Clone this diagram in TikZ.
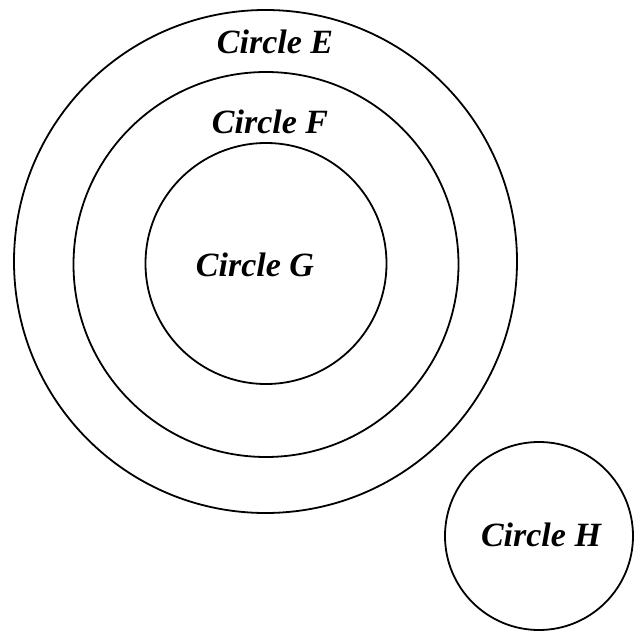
\documentclass[tikz,border=0pt]{standalone}
\usepackage{fontspec}
\setmainfont{Liberation Serif}
\usepackage{tikz}
\usetikzlibrary{positioning}

\begin{document}
\begin{tikzpicture}[
    x=1pt, y=1pt,
    ring/.style={
        circle, draw, line width=1.8pt, inner sep=0pt
    },
    circlabel/.style={
        font=\fontsize{34}{36}\selectfont\bfseries\itshape, inner sep=0pt
    }
]
    \useasboundingbox (0,0) rectangle (638,-631);

    % Nested circles
    \node[ring, minimum size=503pt] (circE) at (265.5,-261.5) {};
    \node[ring, minimum size=385pt] (circF) at (266,-264.5) {};
    \node[ring, minimum size=241pt] (circG) at (266,-263.5) {};

    % Lone circle
    \node[ring, minimum size=188pt] (circH) at (539,-536) {};

    % Labels
    \node[circlabel] (labE) at (275,-42) {Circle E};
    \node[circlabel] (labF) at (270,-122) {Circle F};
    \node[circlabel] (labG) at (255,-265) {Circle G};
    \node[circlabel] (labH) at (541,-535) {Circle H};

\end{tikzpicture}
\end{document}
